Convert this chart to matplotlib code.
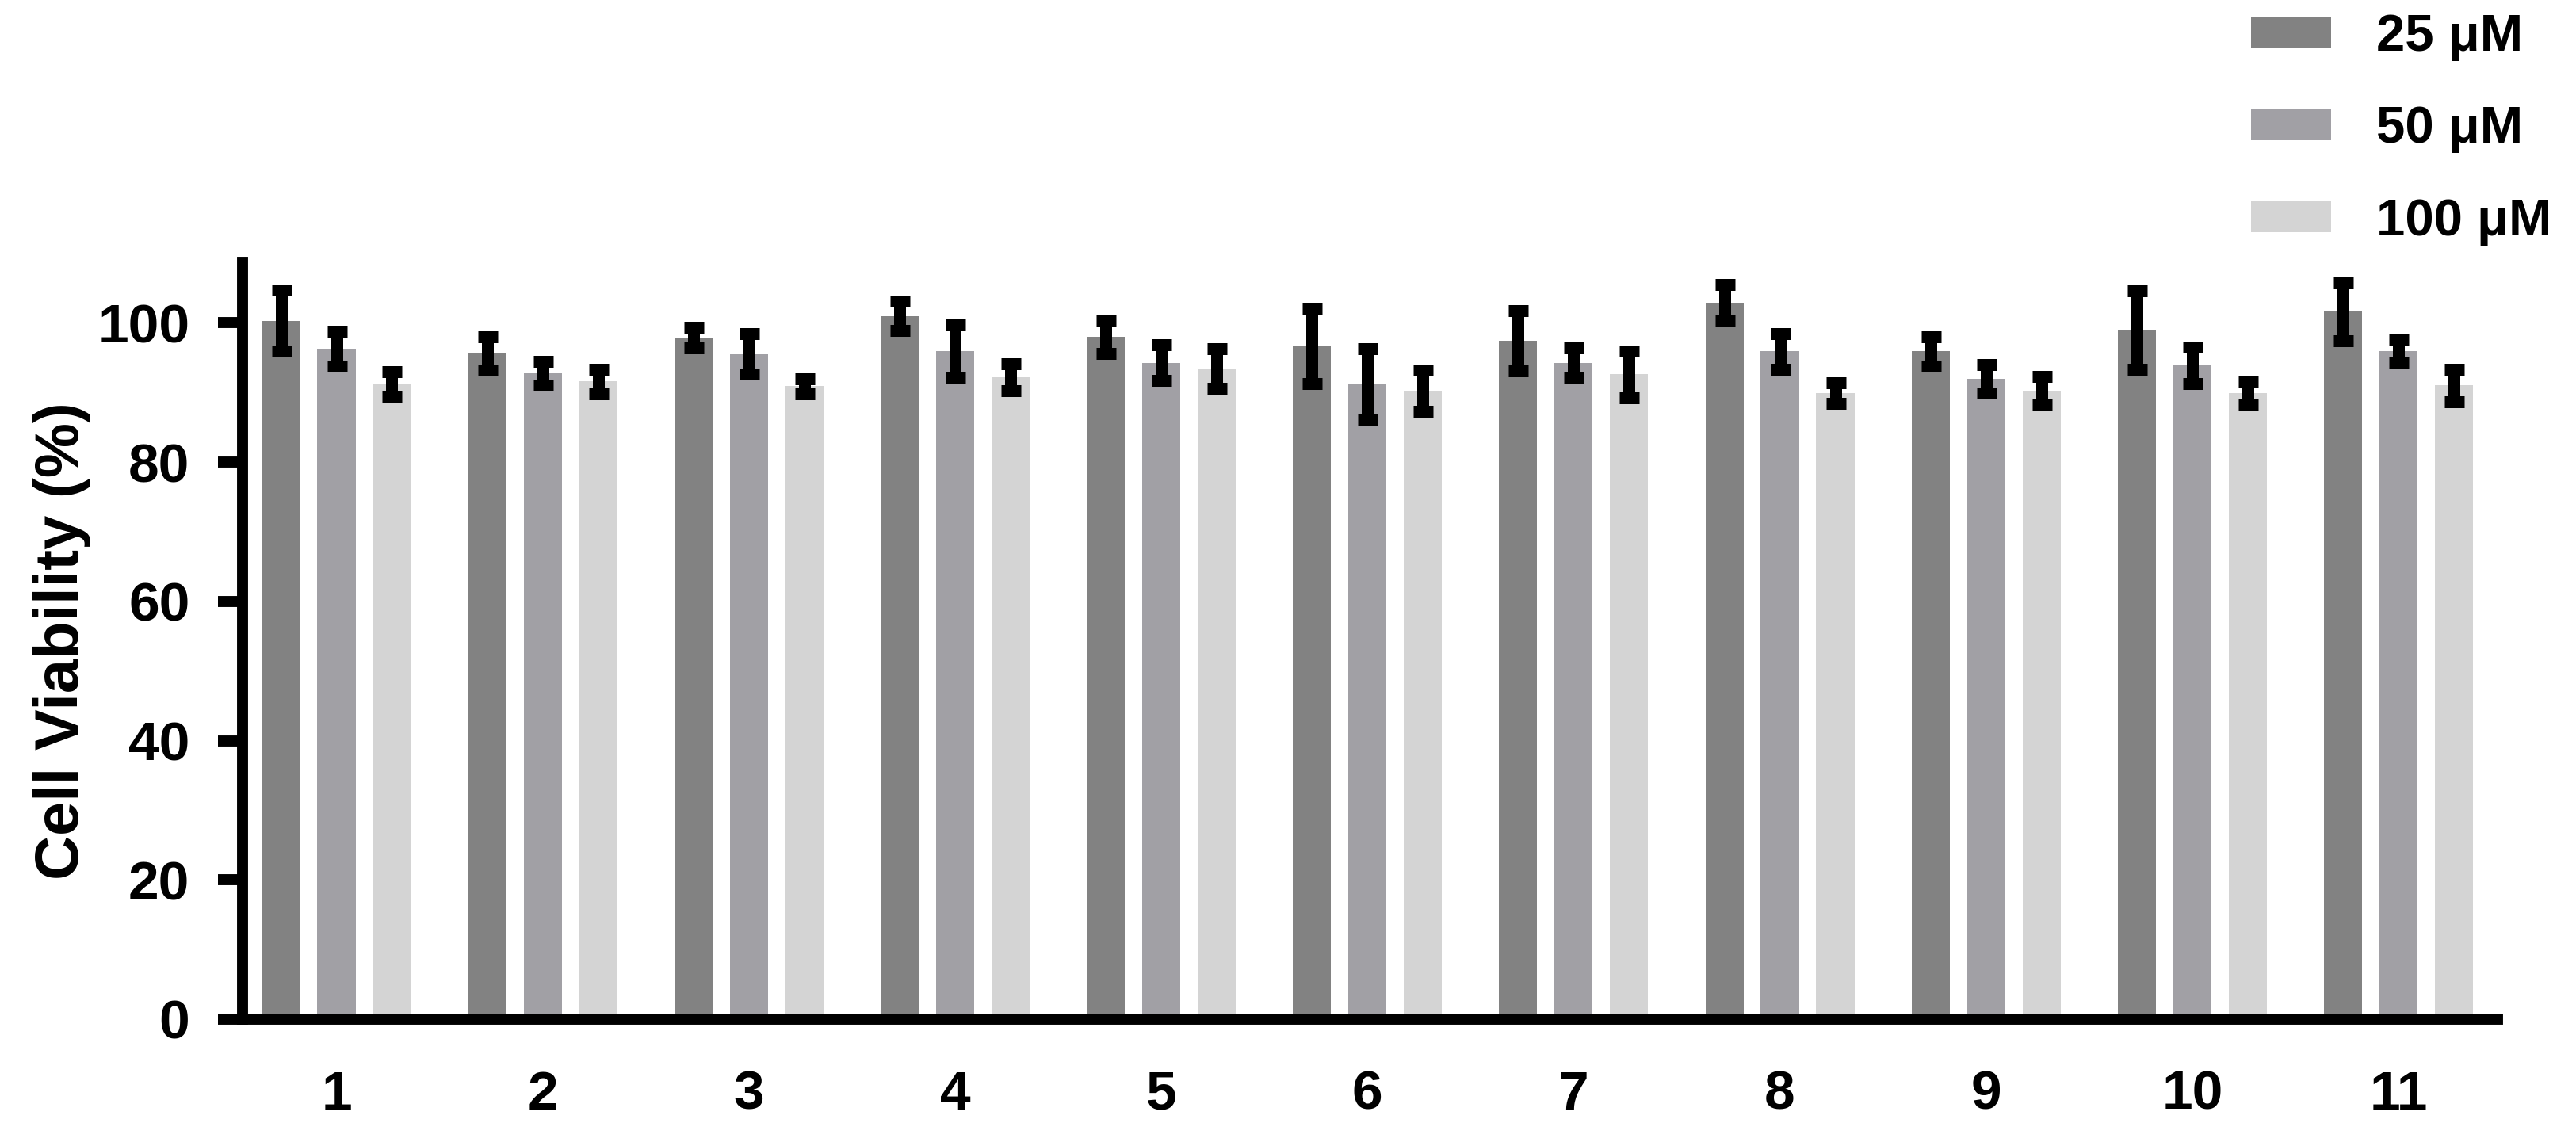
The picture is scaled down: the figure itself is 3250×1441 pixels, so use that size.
import numpy as np
import matplotlib
matplotlib.use("Agg")
import matplotlib.pyplot as plt

plt.rcParams['font.family'] = ['Liberation Sans', 'DejaVu Sans']
plt.rcParams['font.weight'] = 'bold'

# data
groups = ['1', '2', '3', '4', '5', '6', '7', '8', '9', '10', '11']
labels = ['25 μM', '50 μM', '100 μM']
v25 = [100.3, 95.6, 97.9, 101.0, 98.0, 96.7, 97.4, 102.9, 95.9, 99.0, 101.6]
e25 = [4.4, 2.4, 1.5, 2.1, 2.4, 5.45, 4.3, 2.6, 2.1, 5.65, 4.15]
v50 = [96.3, 92.8, 95.5, 95.9, 94.3, 91.2, 94.3, 95.9, 92.0, 93.9, 95.9]
e50 = [2.5, 1.7, 2.9, 3.85, 2.6, 5.05, 2.05, 2.6, 2.05, 2.6, 1.7]
v100 = [91.2, 91.6, 90.9, 92.2, 93.4, 90.3, 92.6, 89.95, 90.3, 89.95, 91.0]
e100 = [1.8, 1.75, 1.1, 1.95, 2.85, 2.95, 3.35, 1.5, 2.05, 1.7, 2.3]
yticks = [0, 20, 40, 60, 80, 100]

colors = ['#828282', '#a1a0a5', '#d4d4d4']

fig = plt.figure(figsize=(32.5, 14.41), dpi=100)
ax = fig.add_axes([0.0942, 0.1076, 0.8753, 0.6627])

x = np.arange(1, len(groups) + 1)
w = 0.185
off = 0.269
for k, (vals, errs) in enumerate([(v25, e25), (v50, e50), (v100, e100)]):
    ax.bar(x + (k - 1) * off, vals, width=w, color=colors[k], label=labels[k], zorder=2)
    ax.errorbar(x + (k - 1) * off, vals, yerr=errs, fmt='none', ecolor='black',
                elinewidth=10.8, capsize=9, capthick=10.8, zorder=3)

ax.set_xlim(0.545, 11.48)
ax.set_ylim(0, 108.7)
ax.set_yticks(yticks)
ax.set_xticks(x)
ax.set_xticklabels(groups)

for s in ['top', 'right']:
    ax.spines[s].set_visible(False)
for s in ['left', 'bottom']:
    ax.spines[s].set_linewidth(10)

ax.tick_params(axis='y', length=22, width=10, pad=26, labelsize=50)
ax.tick_params(axis='x', length=0, pad=46, labelsize=50)
ax.set_ylabel('Cell Viability (%)', fontsize=56, fontweight='bold', labelpad=6)

ax.legend(loc='upper left', bbox_to_anchor=(0.8738, 0.988), bbox_transform=fig.transFigure,
          frameon=False, fontsize=47, handlelength=1.55, handleheight=0.56,
          handletextpad=0.88, labelspacing=0.86, borderpad=0, borderaxespad=0)

fig.savefig('out.png', dpi=100)
